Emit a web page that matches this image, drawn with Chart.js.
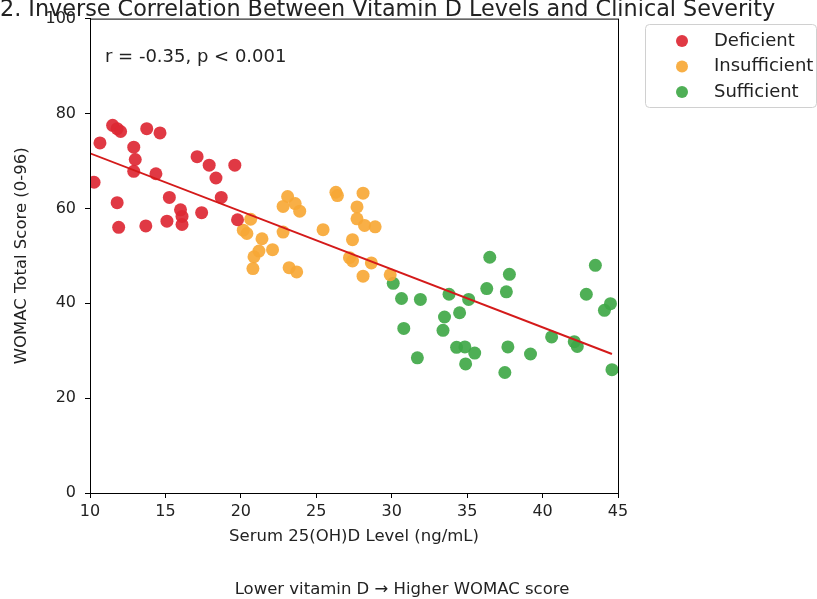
<!DOCTYPE html>
<html>
<head>
<meta charset="utf-8">
<script src="https://cdn.jsdelivr.net/npm/chart.js@4.4.1/dist/chart.umd.min.js"></script>
<style>
  body { margin: 0; background: #fff; }
  canvas { display: block; }
</style>
</head>
<body>
<canvas id="scatter_vitd" width="817" height="599"></canvas>
<script>
// serum 25(OH)D (ng/mL) vs WOMAC total
const deficientX = [10.27, 10.66, 11.5, 11.8, 12.03, 13.76, 14.64, 12.9, 13.0, 12.9, 14.37, 17.1, 17.9,
  19.6, 18.35, 18.7, 15.26, 11.8, 16.0, 16.1, 16.1, 17.4, 15.1, 13.7, 11.9, 19.78];
const deficientY = [65.5, 73.8, 77.5, 76.8, 76.2, 76.8, 75.9, 72.9, 70.3, 67.8, 67.3, 70.9, 69.1,
  69.1, 66.4, 62.3, 62.3, 61.2, 59.7, 58.3, 56.6, 59.1, 57.3, 56.3, 56.0, 57.6];

const insufficientX = [20.65, 20.16, 20.4, 21.4, 21.2, 22.1, 20.87, 20.8, 23.1, 22.8, 23.6, 23.9, 22.8,
  25.45, 23.2, 23.7, 26.3, 26.4, 28.1, 27.7, 27.7, 28.2, 28.9, 27.4, 27.2, 27.4, 28.65, 28.1, 29.9];
const insufficientY = [57.7, 55.4, 54.7, 53.6, 51.0, 51.3, 49.8, 47.3, 62.5, 60.4, 61.0, 59.4, 55.0,
  55.5, 47.5, 46.6, 63.4, 62.7, 63.2, 60.3, 57.8, 56.4, 56.1, 53.4, 49.6, 48.9, 48.5, 45.7, 46.0];

const sufficientX = [30.1, 30.65, 31.9, 30.8, 31.7, 33.8, 35.1, 33.5, 34.5, 33.4, 34.3, 34.85, 35.5, 34.9,
  36.5, 36.3, 37.8, 37.6, 37.7, 37.5, 39.2, 40.6, 42.1, 42.3, 43.5, 42.9, 44.1, 44.5, 44.6];
const sufficientY = [44.2, 41.0, 40.8, 34.7, 28.5, 41.9, 40.8, 37.1, 38.0, 34.3, 30.7, 30.8, 29.5, 27.2,
  49.7, 43.1, 46.1, 42.4, 30.8, 25.4, 29.3, 32.9, 31.9, 30.9, 48.0, 41.9, 38.5, 39.9, 26.0];

// fitted line end points
const fitX = [10.0, 44.6];
const fitY = [71.6, 29.3];

const groupNames = ["Deficient", "Insufficient", "Sufficient"];
const groupColors = ["rgba(221,40,52,0.92)", "rgba(247,168,54,0.92)", "rgba(64,168,72,0.92)"];

const xTicks = [10, 15, 20, 25, 30, 35, 40, 45];
const yTicks = [0, 20, 40, 60, 80, 100];

const pts = (xs, ys) => xs.map((x, i) => ({ x: x, y: ys[i] }));

const FONT = "'DejaVu Sans', sans-serif";
Chart.defaults.font.family = FONT;
Chart.defaults.color = "#222";

const extras = {
  id: "extras",
  afterDraw(chart) {
    const ctx = chart.ctx;
    const a = chart.chartArea;
    ctx.save();
    // axes frame
    ctx.strokeStyle = "#000";
    ctx.lineWidth = 1;
    ctx.strokeRect(a.left + 0.5, a.top + 0.5, a.right - a.left, a.bottom - a.top);

    // clipped title
    ctx.fillStyle = "#222";
    ctx.font = "22.3px " + FONT;
    ctx.textAlign = "left";
    ctx.textBaseline = "alphabetic";
    ctx.fillText("2. Inverse Correlation Between Vitamin D Levels and Clinical Severity", 0, 15.5);

    // r / p note
    ctx.font = "18px " + FONT;
    ctx.textBaseline = "middle";
    ctx.fillText("r = -0.35, p < 0.001", a.left + 15, a.top + 39);

    // footnote
    ctx.font = "16.5px " + FONT;
    ctx.textAlign = "center";
    ctx.fillText("Lower vitamin D \u2192 Higher WOMAC score", 402, 590);

    // legend
    const lx = 645, ly = 24, lw = 171, lh = 83;
    ctx.beginPath();
    ctx.roundRect(lx + 0.5, ly + 0.5, lw, lh, 4);
    ctx.fillStyle = "rgba(255,255,255,0.85)";
    ctx.fill();
    ctx.strokeStyle = "#d0d0d0";
    ctx.stroke();
    ctx.font = "18px " + FONT;
    ctx.textAlign = "left";
    groupNames.forEach((name, i) => {
      const yy = 41 + i * 25.5;
      ctx.beginPath();
      ctx.arc(682, yy, 6, 0, Math.PI * 2);
      ctx.fillStyle = groupColors[i];
      ctx.fill();
      ctx.fillStyle = "#222";
      ctx.fillText(name, 714, yy);
    });
    ctx.restore();
  }
};

const ctx_vitd = document.getElementById("scatter_vitd").getContext("2d");

const chart_vitd = new Chart(ctx_vitd, {
  type: "scatter",
  data: {
    datasets: [
      {
        type: "line",
        label: "fit",
        data: pts(fitX, fitY),
        borderColor: "#d41a1a",
        borderWidth: 1.9,
        pointRadius: 0,
        fill: false,
        order: 0
      },
      {
        label: groupNames[0],
        data: pts(deficientX, deficientY),
        backgroundColor: groupColors[0],
        borderWidth: 0,
        pointRadius: 6.5,
        order: 1
      },
      {
        label: groupNames[1],
        data: pts(insufficientX, insufficientY),
        backgroundColor: groupColors[1],
        borderWidth: 0,
        pointRadius: 6.5,
        order: 1
      },
      {
        label: groupNames[2],
        data: pts(sufficientX, sufficientY),
        backgroundColor: groupColors[2],
        borderWidth: 0,
        pointRadius: 6.5,
        order: 1
      }
    ]
  },
  options: {
    responsive: false,
    animation: false,
    layout: { padding: { left: 0, right: 199, top: 18, bottom: 0 } },
    plugins: {
      legend: { display: false },
      tooltip: { enabled: false }
    },
    scales: {
      x: {
        type: "linear",
        min: 10,
        max: 45,
        afterBuildTicks: s => { s.ticks = xTicks.map(v => ({ value: v })); },
        afterFit: s => { s.height = 106; },
        ticks: { font: { size: 16 }, color: "#222", padding: 4 },
        grid: { drawOnChartArea: false, tickLength: 5, color: "#000" },
        border: { color: "#000" },
        title: {
          display: true,
          text: "Serum 25(OH)D Level (ng/mL)",
          font: { size: 16.5 },
          color: "#222",
          padding: { top: 0, bottom: 52 }
        }
      },
      y: {
        type: "linear",
        min: 0,
        max: 100,
        afterBuildTicks: s => { s.ticks = yTicks.map(v => ({ value: v })); },
        afterFit: s => { s.width = 90; },
        ticks: { font: { size: 16 }, color: "#222", padding: 9 },
        grid: { drawOnChartArea: false, tickLength: 5, color: "#000" },
        border: { color: "#000" },
        title: {
          display: true,
          text: "WOMAC Total Score (0-96)",
          font: { size: 16.5 },
          color: "#222",
          padding: { top: 12, bottom: 0 }
        }
      }
    }
  },
  plugins: [extras]
});
</script>
</body>
</html>
